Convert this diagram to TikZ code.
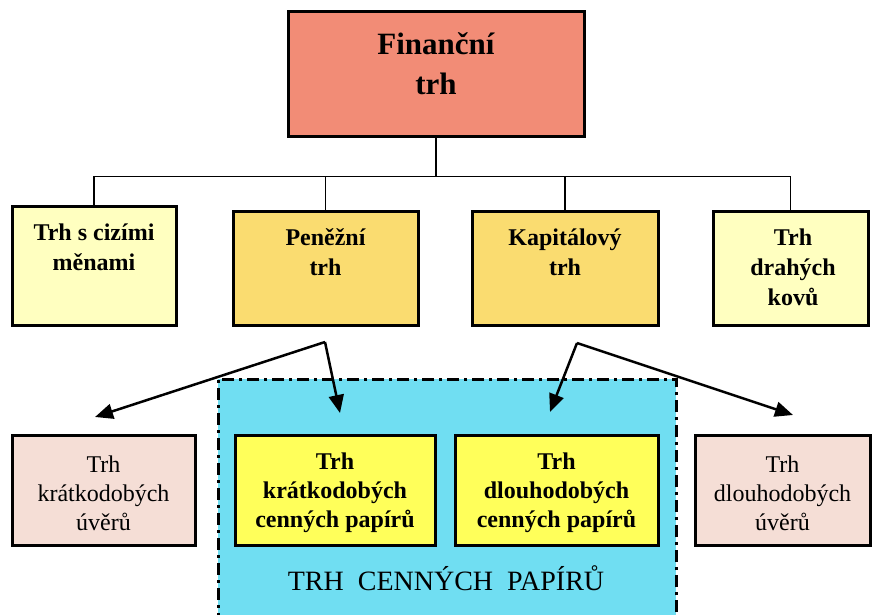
\documentclass[tikz,border=0pt]{standalone}
\usepackage{fontspec}
\setmainfont{Liberation Serif}
\usetikzlibrary{arrows.meta}
\definecolor{salmon}{RGB}{242,140,118}
\definecolor{paleyel}{RGB}{255,255,192}
\definecolor{gold}{RGB}{250,220,112}
\definecolor{cyanbg}{RGB}{112,222,242}
\definecolor{brightyel}{RGB}{255,255,90}
\definecolor{pinkbg}{RGB}{245,222,214}
\begin{document}
\begin{tikzpicture}[x=1pt,y=-1pt,
  box/.style={draw=black, line width=3pt, rectangle, inner sep=0pt},
  big/.style={font=\fontsize{31}{40}\selectfont\bfseries, align=center, inner sep=0pt},
  mid/.style={font=\fontsize{24}{30}\selectfont\bfseries, align=center, inner sep=0pt},
  lowb/.style={font=\fontsize{24}{29}\selectfont\bfseries, align=center, inner sep=0pt},
  lowr/.style={font=\fontsize{24}{29}\selectfont, align=center, inner sep=0pt},
  conn/.style={draw=black, line width=1.5pt},
  arr/.style={draw=black, line width=2.5pt, -{Triangle[length=18pt,width=15pt]}}]
\useasboundingbox (0,0) rectangle (873,615);
\fill[white] (0,0) rectangle (873,615);
% securities market region
\node (trhcp) [draw=black, line width=2.5pt, dash pattern=on 12pt off 5pt on 3pt off 5pt, fill=cyanbg, minimum width=458pt, minimum height=250pt, inner sep=0pt, anchor=north west] at (217,378) {};
\node (trhcptxt) [font=\fontsize{28}{32}\selectfont, inner sep=0pt] at (446,578) {TRH\ \ CENNÝCH\ \ PAPÍRŮ};
% top
\node (top) [box, fill=salmon, minimum width=296pt, minimum height=125pt] at (436,74.5) {};
\node (toptxt) [big] at (436,64) {Finanční\\trh};
% row 2
\node (cizi) [box, fill=paleyel, minimum width=164pt, minimum height=119pt] at (94,265.5) {};
\node (cizitxt) [mid] at (94,247) {Trh s cizími\\měnami};
\node (penez) [box, fill=gold, minimum width=185pt, minimum height=114pt] at (325.5,268) {};
\node (penetxt) [mid] at (325.5,252) {Peněžní\\trh};
\node (kapit) [box, fill=gold, minimum width=186pt, minimum height=114pt] at (565,268) {};
\node (kapitxt) [mid] at (565,252) {Kapitálový\\trh};
\node (drahe) [box, fill=paleyel, minimum width=155pt, minimum height=114pt] at (790.5,268) {};
\node (drahetxt) [mid] at (793,267) {Trh\\drahých\\kovů};
% row 3
\node (kuv) [box, fill=pinkbg, minimum width=183pt, minimum height=110pt] at (103.5,490) {};
\node (kuvtxt) [lowr] at (103.5,493) {Trh\\krátkodobých\\úvěrů};
\node (kcp) [box, fill=brightyel, minimum width=200pt, minimum height=110pt] at (335,490) {};
\node (kcptxt) [lowb] at (335,493) {Trh\\krátkodobých\\cenných papírů};
\node (dcp) [box, fill=brightyel, minimum width=203pt, minimum height=110pt] at (556.5,490) {};
\node (dcptxt) [lowb] at (556.5,493) {Trh\\dlouhodobých\\cenných papírů};
\node (duv) [box, fill=pinkbg, minimum width=175pt, minimum height=110pt] at (782.5,490) {};
\node (duvtxt) [lowr] at (782.5,493) {Trh\\dlouhodobých\\úvěrů};
% tree connectors
\draw[conn] (top.south) -- ++(0,38) -| (cizi.north);
\draw[conn] (top.south) -- ++(0,38) -| (penez.north);
\draw[conn] (top.south) -- ++(0,38) -| (kapit.north);
\draw[conn] (top.south) -- ++(0,38) -| (drahe.north);
% arrows
\coordinate (a1) at (325,342);
\coordinate (a2) at (577,343);
\coordinate (t1) at (95,417);
\coordinate (t2) at (340,413);
\coordinate (t3) at (550,412);
\coordinate (t4) at (793,415);
\draw[arr] (a1) -- (t1);
\draw[arr] (a1) -- (t2);
\draw[arr] (a2) -- (t3);
\draw[arr] (a2) -- (t4);
\end{tikzpicture}
\end{document}
